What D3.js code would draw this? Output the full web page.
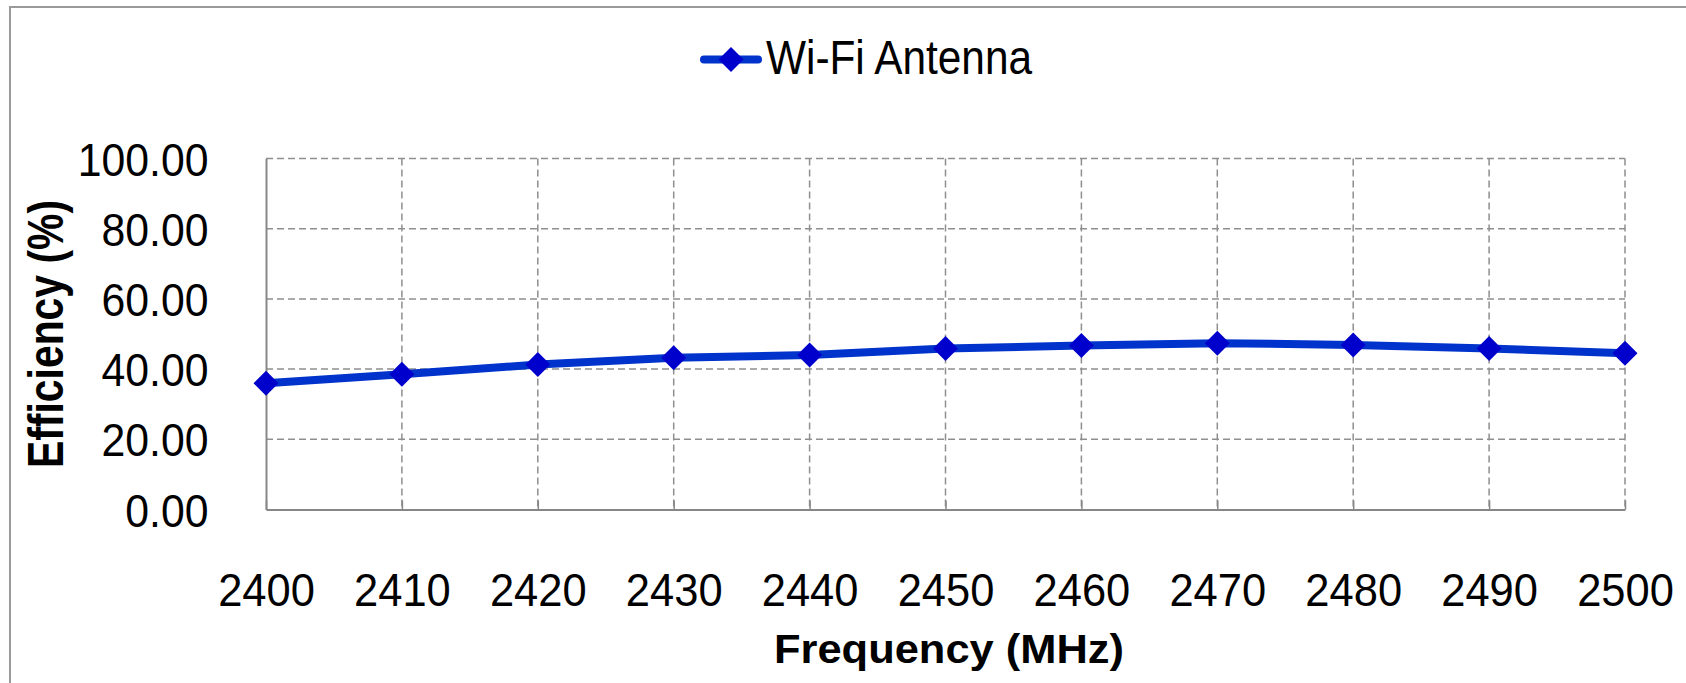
<!DOCTYPE html>
<html>
<head>
<meta charset="utf-8">
<script src="https://cdn.jsdelivr.net/npm/d3@7"></script>
<style>
  html, body { margin: 0; padding: 0; background: #fff; overflow: hidden; }
  svg { display: block; }
  text { font-family: "Liberation Sans", Arial, sans-serif; fill: #000; }
</style>
</head>
<body>
<svg id="chart" width="1686" height="683"></svg>
<script>
// ---- data ----
const frequencies = [2400, 2410, 2420, 2430, 2440, 2450, 2460, 2470, 2480, 2490, 2500];
const efficiency  = [36.0, 38.5, 41.3, 43.2, 44.0, 45.9, 46.7, 47.4, 46.9, 45.9, 44.5];
const yTicks = [0, 20, 40, 60, 80, 100];
const seriesName = "Wi-Fi Antenna";
const xTitle = "Frequency (MHz)";
const yTitle = "Efficiency (%)";

// ---- layout ----
const W = 1686, H = 683;
const plot = { left: 266, right: 1625, top: 158.5, bottom: 509.5 };
const lineColor = "#0033cc", markerColor = "#0000cc";
const gridColor = "#8f8f8f", axisColor = "#878787";

const svg = d3.select("#chart");

// squeeze text horizontally like the original rendering
function squeeze(sel, k) {
  sel.each(function () {
    const len = this.getComputedTextLength();
    d3.select(this).attr("textLength", len * k).attr("lengthAdjust", "spacingAndGlyphs");
  });
}

// outer chart border (open to the right/bottom of the frame)
svg.append("rect")
  .attr("x", 10).attr("y", 7).attr("width", 2000).attr("height", 1000)
  .attr("fill", "none").attr("stroke", "#9a9a9a").attr("stroke-width", 2);

const x = d3.scaleLinear().domain([2400, 2500]).range([plot.left, plot.right]);
const y = d3.scaleLinear().domain([0, 100]).range([plot.bottom, plot.top]);

// gridlines
const grid = svg.append("g");
grid.selectAll("line.h").data(yTicks.filter(d => d > 0)).join("line")
  .attr("x1", plot.left).attr("x2", plot.right)
  .attr("y1", d => y(d)).attr("y2", d => y(d))
  .attr("stroke", gridColor).attr("stroke-width", 1.5).attr("stroke-dasharray", "7,4");
grid.selectAll("line.v").data(frequencies.slice(1)).join("line")
  .attr("x1", d => x(d)).attr("x2", d => x(d))
  .attr("y1", plot.top).attr("y2", plot.bottom)
  .attr("stroke", gridColor).attr("stroke-width", 1.5).attr("stroke-dasharray", "7,4");

// axes
const xAxis = d3.axisBottom(x).tickValues(frequencies).tickFormat(d3.format("d")).tickSize(0).tickPadding(0);
const gx = svg.append("g").attr("transform", `translate(0,${plot.bottom})`).call(xAxis);
gx.select(".domain").attr("stroke", axisColor).attr("stroke-width", 2);
gx.selectAll(".tick text")
  .attr("y", 96.5).attr("dy", null)
  .attr("font-size", 47).attr("font-family", "Liberation Sans, Arial, sans-serif").attr("fill", "#000")
  .call(squeeze, 0.925);
// small solid tick marks inside the plot at the bottom
gx.selectAll(".tick").append("line")
  .attr("y1", -9).attr("y2", 0).attr("stroke", axisColor).attr("stroke-width", 1.5);

const yAxis = d3.axisLeft(y).tickValues(yTicks).tickFormat(d3.format(".2f")).tickSize(0).tickPadding(0);
const gy = svg.append("g").attr("transform", `translate(${plot.left},0)`).call(yAxis);
gy.select(".domain").attr("stroke", axisColor).attr("stroke-width", 2);
gy.selectAll(".tick text")
  .attr("x", -57.5).attr("dy", null).attr("y", 16.5)
  .attr("font-size", 47).attr("font-family", "Liberation Sans, Arial, sans-serif").attr("fill", "#000")
  .call(squeeze, 0.91);

// axis titles
svg.append("text")
  .attr("x", 949).attr("y", 663)
  .attr("text-anchor", "middle").attr("font-weight", "bold").attr("font-size", 41)
  .text(xTitle)
  .attr("textLength", 350).attr("lengthAdjust", "spacingAndGlyphs");

svg.append("text")
  .attr("transform", "translate(63,334) rotate(-90)")
  .attr("text-anchor", "middle").attr("font-weight", "bold").attr("font-size", 50)
  .text(yTitle)
  .attr("textLength", 268).attr("lengthAdjust", "spacingAndGlyphs");

// series
const pts = frequencies.map((f, i) => ({ f, v: efficiency[i] }));
svg.append("path")
  .datum(pts)
  .attr("fill", "none").attr("stroke", lineColor).attr("stroke-width", 8)
  .attr("stroke-linejoin", "round")
  .attr("d", d3.line().x(d => x(d.f)).y(d => y(d.v)));

const diamond = "M0,-12.5L12.5,0L0,12.5L-12.5,0Z";
svg.selectAll("path.marker").data(pts).join("path")
  .attr("class", "marker")
  .attr("transform", d => `translate(${x(d.f)},${y(d.v)})`)
  .attr("d", diamond).attr("fill", markerColor);

// legend
const lg = svg.append("g");
lg.append("line")
  .attr("x1", 704).attr("x2", 758).attr("y1", 59.5).attr("y2", 59.5)
  .attr("stroke", lineColor).attr("stroke-width", 8).attr("stroke-linecap", "round");
lg.append("path").attr("transform", "translate(731,59.5)").attr("d", diamond).attr("fill", markerColor);
lg.append("text")
  .attr("x", 766).attr("y", 73.5).attr("font-size", 48)
  .text(seriesName)
  .attr("textLength", 266).attr("lengthAdjust", "spacingAndGlyphs");
</script>
</body>
</html>
